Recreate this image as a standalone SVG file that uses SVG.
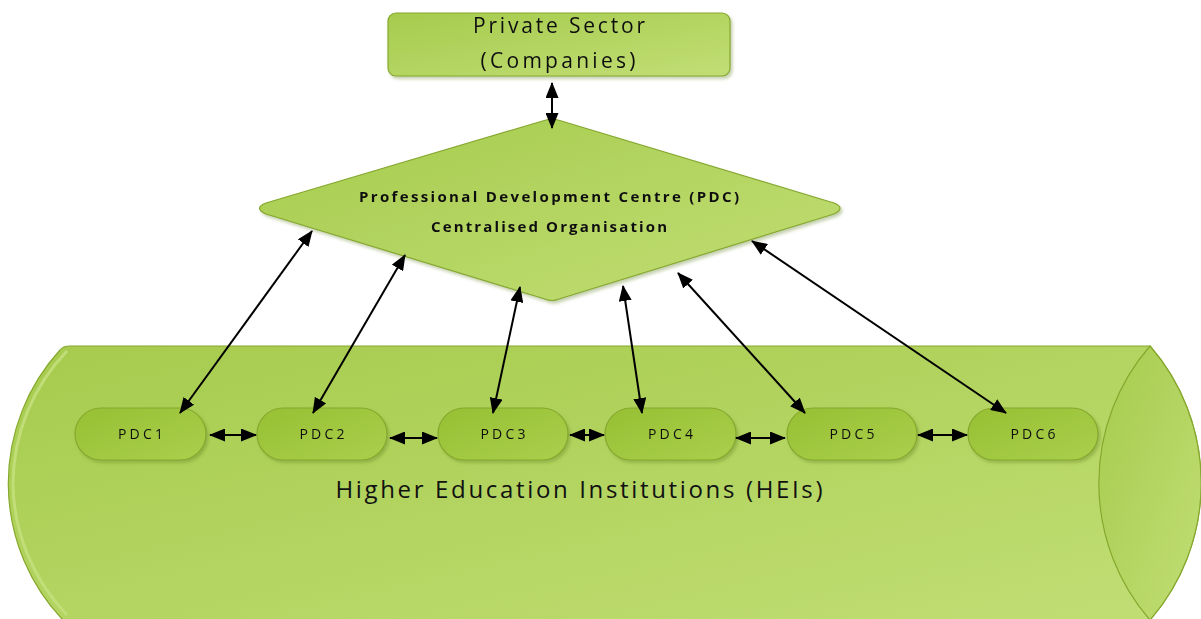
<svg xmlns="http://www.w3.org/2000/svg" width="1201" height="619" viewBox="0 0 1201 619">
<defs>
<style>
.t{font-family:"Open Sans","Liberation Sans",sans-serif;fill:#111;text-anchor:middle}
.b{font-weight:bold}
.shape{stroke:#86a82e;stroke-width:1.2}
.conn{stroke:#000;stroke-width:2;fill:none;marker-start:url(#ah);marker-end:url(#ah)}
</style>
<linearGradient id="g1" x1="0" y1="0" x2="1" y2="1">
<stop offset="0" stop-color="#a6cb4d"/>
<stop offset="1" stop-color="#c1de75"/>
</linearGradient>
<linearGradient id="g2" x1="0" y1="0" x2="1" y2="1">
<stop offset="0" stop-color="#97c033"/>
<stop offset="1" stop-color="#aacf4c"/>
</linearGradient>
<filter id="sh" x="-10%" y="-10%" width="130%" height="140%">
<feDropShadow dx="2" dy="2.5" stdDeviation="1.5" flood-color="#5a7a1a" flood-opacity="0.35"/>
</filter>
<marker id="ah" viewBox="0 0 16 13" refX="15" refY="6.5" markerWidth="16" markerHeight="13" markerUnits="userSpaceOnUse" orient="auto-start-reverse">
<path d="M0,0 L16,6.5 L0,13 Z" fill="#000"/>
</marker>
</defs>
<rect width="1201" height="619" fill="#fff"/>

<g id="heis">
<path class="shape" fill="url(#g1)" d="M70,346 L1150,346 A209 209 0 0 1 1150 620 L63 620 A198 198 0 0 1 60 350 Q63 346 70 346 Z"/>
<path d="M67,351 A193 193 0 0 0 13 483 A193 193 0 0 0 67 615" fill="none" stroke="#c3df7c" stroke-width="3" opacity="0.9"/>
<path class="shape" fill="url(#g1)" d="M1150,346 A209 209 0 0 0 1150 620 A209 209 0 0 0 1150 346 Z"/>
<text class="t" x="579" y="498" font-size="24" textLength="487" lengthAdjust="spacing">Higher Education Institutions (HEIs)</text>
</g>

<g id="private-sector" filter="url(#sh)">
<rect class="shape" x="388" y="13" width="342" height="63" rx="8" fill="url(#g1)"/>
<text class="t" x="559" y="33" font-size="21" textLength="172" lengthAdjust="spacing">Private Sector</text>
<text class="t" x="558" y="68" font-size="21" textLength="155" lengthAdjust="spacing">(Companies)</text>
</g>

<g id="pdc-centre" filter="url(#sh)">
<path class="shape" fill="url(#g1)" d="M546,120 Q552,118 558,120 L834,203 Q846,208 834,214 L559,299 Q552,302 545,299 L266,214 Q253,208 266,203 Z"/>
<text class="t b" x="549" y="202" font-size="15" textLength="380" lengthAdjust="spacing">Professional Development Centre (PDC)</text>
<text class="t b" x="549" y="232" font-size="15" textLength="236" lengthAdjust="spacing">Centralised Organisation</text>
</g>

<g id="pdc1" filter="url(#sh)"><rect class="shape" x="75" y="408" width="131" height="52" rx="26" fill="url(#g2)"/><text class="t" x="140.5" y="439" font-size="14" textLength="45" lengthAdjust="spacing">PDC1</text></g>
<g id="pdc2" filter="url(#sh)"><rect class="shape" x="257" y="408" width="130" height="52" rx="26" fill="url(#g2)"/><text class="t" x="322" y="439" font-size="14" textLength="45" lengthAdjust="spacing">PDC2</text></g>
<g id="pdc3" filter="url(#sh)"><rect class="shape" x="438" y="408" width="130" height="52" rx="26" fill="url(#g2)"/><text class="t" x="503" y="439" font-size="14" textLength="45" lengthAdjust="spacing">PDC3</text></g>
<g id="pdc4" filter="url(#sh)"><rect class="shape" x="605" y="408" width="131" height="52" rx="26" fill="url(#g2)"/><text class="t" x="670.5" y="439" font-size="14" textLength="45" lengthAdjust="spacing">PDC4</text></g>
<g id="pdc5" filter="url(#sh)"><rect class="shape" x="787" y="408" width="130" height="52" rx="26" fill="url(#g2)"/><text class="t" x="852" y="439" font-size="14" textLength="45" lengthAdjust="spacing">PDC5</text></g>
<g id="pdc6" filter="url(#sh)"><rect class="shape" x="968" y="408" width="130" height="52" rx="26" fill="url(#g2)"/><text class="t" x="1033" y="439" font-size="14" textLength="45" lengthAdjust="spacing">PDC6</text></g>

<g id="connectors">
<line class="conn" x1="552" y1="83" x2="552" y2="128"/>
<line class="conn" x1="312" y1="231" x2="180" y2="413"/>
<line class="conn" x1="405" y1="255" x2="313" y2="413"/>
<line class="conn" x1="520" y1="287" x2="493" y2="413"/>
<line class="conn" x1="623" y1="286" x2="642" y2="413"/>
<line class="conn" x1="678" y1="273" x2="805" y2="413"/>
<line class="conn" x1="752" y1="241" x2="1006" y2="413"/>
<line class="conn" x1="210" y1="435" x2="256" y2="435"/>
<line class="conn" x1="390" y1="438" x2="437" y2="438"/>
<line class="conn" x1="570" y1="435" x2="604" y2="435"/>
<line class="conn" x1="736" y1="438" x2="785" y2="438"/>
<line class="conn" x1="918" y1="435" x2="967" y2="435"/>
</g>
</svg>
